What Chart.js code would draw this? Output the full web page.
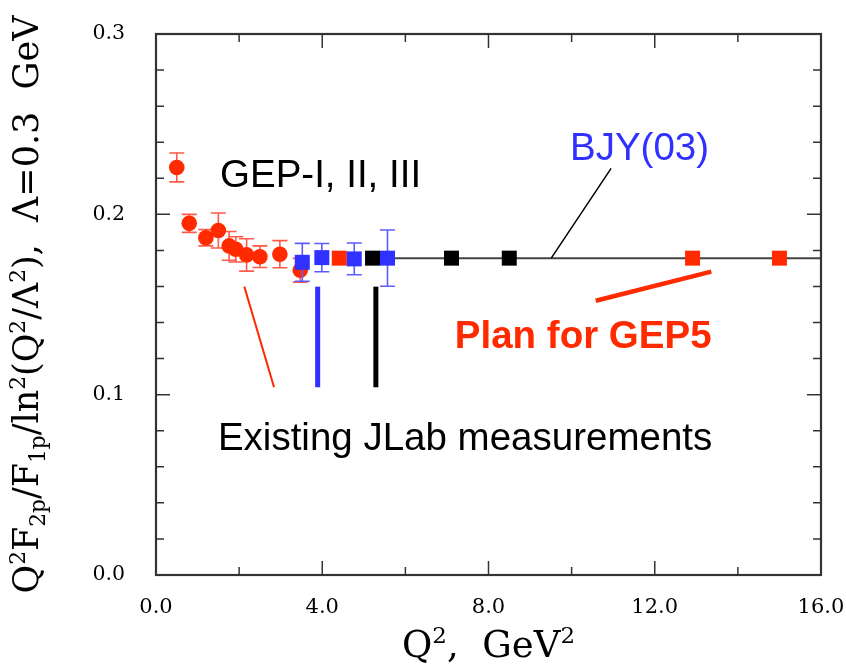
<!DOCTYPE html>
<html>
<head>
<meta charset="utf-8">
<script src="https://cdn.jsdelivr.net/npm/chart.js@4.4.1/dist/chart.umd.min.js"></script>
<style>
  html, body { margin: 0; padding: 0; background: #fff; }
</style>
</head>
<body>
<canvas id="ratio" width="846" height="669"></canvas>
<script>
// GEP-I, II, III results
var gepQ2    = [0.50, 0.80, 1.20, 1.50, 1.76, 1.92, 2.18, 2.50, 2.98, 3.47];
var gepRatio = [0.226, 0.195, 0.187, 0.191, 0.1825, 0.1806, 0.1775, 0.1765, 0.1779, 0.169];
var gepErr   = [0.008, 0.005, 0.0045, 0.0097, 0.008, 0.007, 0.009, 0.006, 0.0075, 0.0066];

// existing JLab measurements sitting on the BJY curve
var jlabQ2    = [3.52, 3.99, 4.77, 5.57];
var jlabRatio = [0.1734, 0.1760, 0.1753, 0.1757];
var jlabErr   = [0.0105, 0.0078, 0.0088, 0.0156];

// black projected points and the GEP5 plan
var blackQ2 = [5.21, 7.11, 8.50];
var gep5Q2  = [4.41, 12.91, 15.0];

// BJY(03) curve level
var bjyLevel = 0.1757;
var bjyQ2    = [5.57, 16.0];

// ticks
var xTicks = [0, 2, 4, 6, 8, 10, 12, 14, 16];
var xLabeled = [0, 4, 8, 12, 16];
var yTicks = [0, 0.02, 0.04, 0.06, 0.08, 0.1, 0.12, 0.14, 0.16, 0.18, 0.2, 0.22, 0.24, 0.26, 0.28, 0.3];
var yLabeled = [0, 0.1, 0.2, 0.3];

var RED = '#ff2a00';
var BLUE = '#3030ff';
var SERIF = '"DejaVu Serif", "Liberation Serif", serif';
var SANS = '"Liberation Sans", Arial, sans-serif';

function pts(xs, ys) {
  return xs.map(function (x, i) { return { x: x, y: Array.isArray(ys) ? ys[i] : ys }; });
}
function isLabeled(list, v) {
  return list.some(function (l) { return Math.abs(l - v) < 1e-6; });
}
// keep the plot area fixed: no extra room for label overhang
function noOverhang(s) {
  s.paddingLeft = 0; s.paddingRight = 0; s.paddingTop = 0; s.paddingBottom = 0;
}

// error bars, drawn just before each dataset so later sets sit above them
var errorBars = {
  id: 'errorBars',
  beforeDatasetDraw: function (chart, args) {
    var ds = chart.data.datasets[args.index];
    if (!ds.errors) return;
    var ctx = chart.ctx, xs = chart.scales.x, ys = chart.scales.y;
    ctx.save();
    ctx.strokeStyle = ds.errorColor;
    ctx.lineWidth = 1.6;
    ds.data.forEach(function (p, i) {
      var px = xs.getPixelForValue(p.x);
      var top = ys.getPixelForValue(p.y + ds.errors[i]);
      var bot = ys.getPixelForValue(p.y - ds.errors[i]);
      ctx.beginPath();
      ctx.moveTo(px, top); ctx.lineTo(px, bot);
      ctx.moveTo(px - 7.5, top); ctx.lineTo(px + 7.5, top);
      ctx.moveTo(px - 7.5, bot); ctx.lineTo(px + 7.5, bot);
      ctx.stroke();
    });
    ctx.restore();
  }
};

// frame with inward ticks on all four sides
var frame = {
  id: 'frame',
  afterDatasetsDraw: function (chart) {
    var ctx = chart.ctx, a = chart.chartArea, xs = chart.scales.x, ys = chart.scales.y;
    ctx.save();
    ctx.strokeStyle = '#333';
    ctx.lineWidth = 1.5;
    ctx.beginPath();
    xTicks.forEach(function (v) {
      var px = xs.getPixelForValue(v);
      var len = isLabeled(xLabeled, v) ? 14 : 8;
      ctx.moveTo(px, a.bottom); ctx.lineTo(px, a.bottom - len);
      ctx.moveTo(px, a.top); ctx.lineTo(px, a.top + len);
    });
    yTicks.forEach(function (v) {
      var py = ys.getPixelForValue(v);
      var len = isLabeled(yLabeled, v) ? 14 : 8;
      ctx.moveTo(a.left, py); ctx.lineTo(a.left + len, py);
      ctx.moveTo(a.right, py); ctx.lineTo(a.right - len, py);
    });
    ctx.stroke();
    ctx.lineWidth = 2.2;
    ctx.strokeRect(a.left, a.top, a.right - a.left, a.bottom - a.top);
    ctx.restore();
  }
};

// text made of normal / superscript / subscript runs
function richText(ctx, parts, x, y, size) {
  var cx = x;
  parts.forEach(function (p) {
    var s = p[1] ? size * 0.62 : size;
    var dy = p[1] === 'sup' ? -size * 0.38 : (p[1] === 'sub' ? size * 0.2 : 0);
    ctx.font = s + 'px ' + SERIF;
    ctx.fillText(p[0], cx, y + dy);
    cx += ctx.measureText(p[0]).width;
  });
  return cx - x;
}
function richWidth(ctx, parts, size) {
  var w = 0;
  parts.forEach(function (p) {
    ctx.font = (p[1] ? size * 0.62 : size) + 'px ' + SERIF;
    w += ctx.measureText(p[0]).width;
  });
  return w;
}

var yTitle = [['Q'], ['2', 'sup'], ['F'], ['2p', 'sub'], ['/F'], ['1p', 'sub'], ['/ln'], ['2', 'sup'],
  ['(Q'], ['2', 'sup'], ['/\u039b'], ['2', 'sup'], ['),  \u039b=0.3  GeV']];
var xTitle = [['Q'], ['2', 'sup'], [',  GeV'], ['2', 'sup']];

var notes = {
  id: 'notes',
  afterDraw: function (chart) {
    var ctx = chart.ctx, a = chart.chartArea, xs = chart.scales.x, ys = chart.scales.y;
    function X(v) { return xs.getPixelForValue(v); }
    function Y(v) { return ys.getPixelForValue(v); }
    function seg(x0, y0, x1, y1, color, w) {
      ctx.strokeStyle = color; ctx.lineWidth = w;
      ctx.beginPath(); ctx.moveTo(X(x0), Y(y0)); ctx.lineTo(X(x1), Y(y1)); ctx.stroke();
    }
    ctx.save();
    ctx.textBaseline = 'alphabetic';
    ctx.textAlign = 'left';

    ctx.fillStyle = '#000';
    ctx.font = '38.5px ' + SANS;
    ctx.fillText('GEP-I, II, III', X(1.54), Y(0.2152));
    ctx.fillText('Existing JLab measurements', X(1.49), Y(0.0693));

    ctx.fillStyle = BLUE;
    ctx.font = '38.5px ' + SANS;
    ctx.fillText('BJY(03)', X(9.96), Y(0.2302));

    ctx.fillStyle = RED;
    ctx.font = 'bold 38.5px ' + SANS;
    ctx.fillText('Plan for GEP5', X(7.19), Y(0.1259));

    seg(9.51, bjyLevel, 10.95, 0.2255, '#000', 1.5);
    seg(2.125, 0.1599, 2.84, 0.1041, RED, 2);
    seg(3.89, 0.1599, 3.89, 0.1041, BLUE, 5);
    seg(5.29, 0.1599, 5.29, 0.1041, '#000', 5);
    seg(10.58, 0.1521, 13.36, 0.1682, RED, 4.5);

    // axis titles
    ctx.fillStyle = '#000';
    var ts = 37;
    var w = richWidth(ctx, xTitle, ts);
    richText(ctx, xTitle, (a.left + a.right) / 2 - w / 2, 657, ts);

    var ys2 = 35;
    var wy = richWidth(ctx, yTitle, ys2);
    ctx.translate(38, (a.top + a.bottom) / 2);
    ctx.rotate(-Math.PI / 2);
    richText(ctx, yTitle, -wy / 2, 0, ys2);
    ctx.restore();
  }
};

new Chart(document.getElementById('ratio'), {
  type: 'scatter',
  data: {
    datasets: [
      { label: 'BJY(03)', data: pts(bjyQ2, bjyLevel), showLine: true, borderColor: '#444',
        borderWidth: 2, pointRadius: 0, order: 5 },
      { label: 'GEP-I, II, III', data: pts(gepQ2, gepRatio), errors: gepErr, errorColor: '#ff5a4a',
        pointStyle: 'circle', pointRadius: 7.8, backgroundColor: RED, borderWidth: 0, order: 4 },
      { label: 'GEP5', data: pts(gep5Q2, bjyLevel), pointStyle: 'rect', pointRadius: 10.6,
        backgroundColor: RED, borderWidth: 0, order: 3 },
      { label: 'projected', data: pts(blackQ2, bjyLevel), pointStyle: 'rect', pointRadius: 10.6,
        backgroundColor: '#000', borderWidth: 0, order: 2 },
      { label: 'JLab', data: pts(jlabQ2, jlabRatio), errors: jlabErr, errorColor: '#5c5cff',
        pointStyle: 'rect', pointRadius: 10.6, backgroundColor: BLUE, borderWidth: 0, order: 1 }
    ]
  },
  options: {
    responsive: false,
    animation: false,
    devicePixelRatio: 1,
    layout: { padding: { top: 34, right: 25, left: 0, bottom: 0 } },
    plugins: { legend: { display: false }, tooltip: { enabled: false } },
    elements: { point: { hoverRadius: 0 } },
    scales: {
      x: {
        type: 'linear', min: 0, max: 16,
        grid: { display: false, drawTicks: false },
        border: { display: false },
        afterFit: function (s) { s.height = 94; noOverhang(s); },
        afterBuildTicks: function (s) { s.ticks = xTicks.map(function (v) { return { value: v }; }); },
        ticks: {
          autoSkip: false, maxRotation: 0, padding: 20, color: '#000',
          font: { family: SERIF, size: 21 },
          callback: function (v) { return isLabeled(xLabeled, v) ? v.toFixed(1) : ''; }
        }
      },
      y: {
        type: 'linear', min: 0, max: 0.3,
        grid: { display: false, drawTicks: false },
        border: { display: false },
        afterFit: function (s) { s.width = 156; noOverhang(s); },
        afterBuildTicks: function (s) { s.ticks = yTicks.map(function (v) { return { value: v }; }); },
        ticks: {
          autoSkip: false, padding: 31, color: '#000',
          font: { family: SERIF, size: 20.5 },
          callback: function (v) { return isLabeled(yLabeled, v) ? v.toFixed(1) : ''; }
        }
      }
    }
  },
  plugins: [errorBars, frame, notes]
});
</script>
</body>
</html>
